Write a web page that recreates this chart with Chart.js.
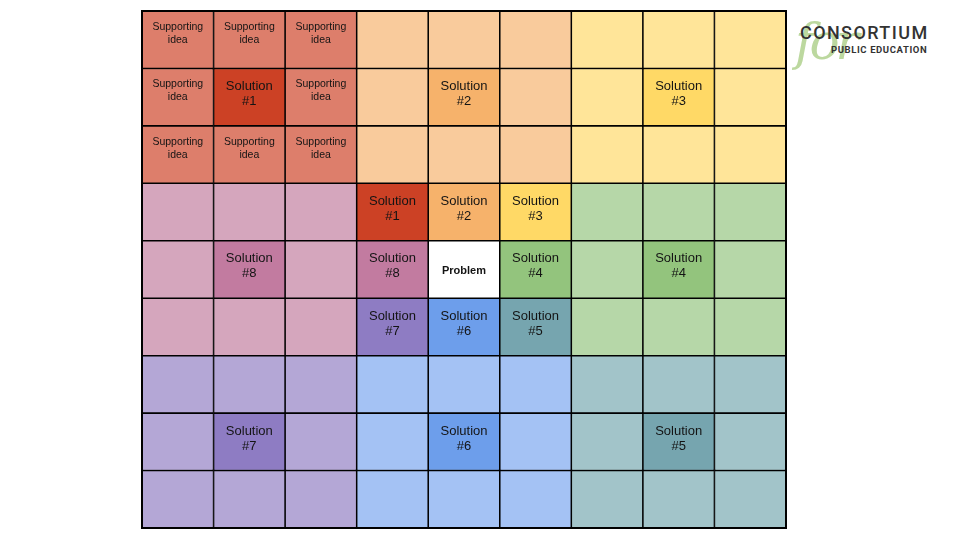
<!DOCTYPE html>
<html>
<head>
<meta charset="utf-8">
<script src="https://cdn.jsdelivr.net/npm/chart.js@4"></script>
<style>
  body { margin: 0; background: #fff; width: 960px; height: 540px; overflow: hidden; position: relative; font-family: "Liberation Sans", Arial, sans-serif; }
  #wrap { position: absolute; left: 140px; top: 9px; width: 648px; height: 521px; }
  .logo-for { position: absolute; left: 795px; top: 17px; font-family: "DejaVu Serif", serif; font-style: italic; font-size: 50px; color: #bcd89f; letter-spacing: -4px; line-height: 1; }
  .logo-main { position: absolute; left: 800px; top: 22px; font-family: Roboto, "DejaVu Sans", sans-serif; font-weight: 500; font-size: 18px; color: #333; letter-spacing: 1.4px; }
  .logo-sub { position: absolute; left: 831px; top: 44px; font-family: Roboto, "DejaVu Sans", sans-serif; font-weight: 700; font-size: 9.5px; color: #333; letter-spacing: 0.6px; }
</style>
</head>
<body>
<div class="logo-for">for</div>
<div class="logo-main">CONSORTIUM</div>
<div class="logo-sub">PUBLIC EDUCATION</div>
<div id="wrap"><canvas id="grid"></canvas></div>
<script>
document.addEventListener("DOMContentLoaded", function () {
    // columns and rows of the 9x9 lotus grid (rows listed top to bottom)
    const columns = ['C1', 'C2', 'C3', 'C4', 'C5', 'C6', 'C7', 'C8', 'C9'];
    const rows = ['R1', 'R2', 'R3', 'R4', 'R5', 'R6', 'R7', 'R8', 'R9'];
    const cellHeight = [1, 1, 1, 1, 1, 1, 1, 1, 1];

    const S = 'Supporting\nidea';
    const cellLabels = [
        [S, S, S, '', '', '', '', '', ''],
        [S, 'Solution\n#1', S, '', 'Solution\n#2', '', '', 'Solution\n#3', ''],
        [S, S, S, '', '', '', '', '', ''],
        ['', '', '', 'Solution\n#1', 'Solution\n#2', 'Solution\n#3', '', '', ''],
        ['', 'Solution\n#8', '', 'Solution\n#8', 'Problem', 'Solution\n#4', '', 'Solution\n#4', ''],
        ['', '', '', 'Solution\n#7', 'Solution\n#6', 'Solution\n#5', '', '', ''],
        ['', '', '', '', '', '', '', '', ''],
        ['', 'Solution\n#7', '', '', 'Solution\n#6', '', '', 'Solution\n#5', ''],
        ['', '', '', '', '', '', '', '', '']
    ];

    // colours per cell
    const palette = {
        r: '#dd7e6b', R: '#cc4125',
        o: '#f9cb9c', O: '#f6b26b',
        y: '#ffe599', Y: '#ffd966',
        p: '#d5a6bd', P: '#c27ba0',
        g: '#b6d7a8', G: '#93c47d',
        v: '#b4a7d6', V: '#8e7cc3',
        b: '#a4c2f4', B: '#6d9eeb',
        t: '#a2c4c9', T: '#76a5af',
        w: '#ffffff'
    };
    const colorGrid = [
        'rrroooyyy',
        'rRroOoyYy',
        'rrroooyyy',
        'pppROYggg',
        'pPpPwGgGg',
        'pppVBTggg',
        'vvvbbbttt',
        'vVvbBbtTt',
        'vvvbbbttt'
    ];

    // text drawn inside every bar
    const cellText = {
        id: 'cellText',
        afterDatasetsDraw(chart) {
            const ctx = chart.ctx;
            chart.data.datasets.forEach((ds, di) => {
                const meta = chart.getDatasetMeta(di);
                meta.data.forEach((bar, ci) => {
                    const txt = ds.labels[ci];
                    if (!txt) return;
                    const p = bar.getProps(['x', 'y', 'base'], true);
                    const top = Math.min(p.y, p.base);
                    const bottom = Math.max(p.y, p.base);
                    const lines = txt.split('\n');
                    ctx.save();
                    ctx.fillStyle = '#141414';
                    ctx.textAlign = 'center';
                    ctx.textBaseline = 'middle';
                    if (txt === 'Problem') {
                        ctx.font = 'bold 11px "Liberation Sans", Arial, sans-serif';
                        ctx.fillText(txt, p.x, (top + bottom) / 2 + 1);
                    } else if (txt.startsWith('Supporting')) {
                        ctx.font = '10.5px "Liberation Sans", Arial, sans-serif';
                        lines.forEach((l, i) => ctx.fillText(l, p.x, top + 16 + i * 13));
                    } else {
                        ctx.font = '13px "Liberation Sans", Arial, sans-serif';
                        lines.forEach((l, i) => ctx.fillText(l, p.x, top + 18 + i * 15));
                    }
                    ctx.restore();
                });
            });
            // outer frame
            const a = chart.chartArea;
            ctx.save();
            ctx.strokeStyle = '#000';
            ctx.lineWidth = 2;
            ctx.strokeRect(a.left, a.top, a.right - a.left, a.bottom - a.top);
            ctx.restore();
        }
    };

    // stacked bars: first dataset is the bottom row
    const datasets = rows.slice().reverse().map((name, k) => {
        const r = rows.length - 1 - k;
        return {
            label: name,
            data: columns.map((c, i) => cellHeight[r]),
            labels: cellLabels[r],
            backgroundColor: columns.map((c, i) => palette[colorGrid[r][i]]),
            borderColor: '#000',
            borderWidth: 1.1,
            borderSkipped: false,
            categoryPercentage: 1,
            barPercentage: 1
        };
    });

    const chart = new Chart(document.getElementById('grid'), {
        type: 'bar',
        data: { labels: columns, datasets: datasets },
        plugins: [cellText],
        options: {
            responsive: true,
            maintainAspectRatio: false,
            animation: false,
            layout: { padding: 2 },
            plugins: { legend: { display: false }, tooltip: { enabled: false } },
            scales: {
                x: { stacked: true, display: false },
                y: { stacked: true, display: false, min: 0, max: 9 }
            }
        }
    });
});
</script>
</body>
</html>
